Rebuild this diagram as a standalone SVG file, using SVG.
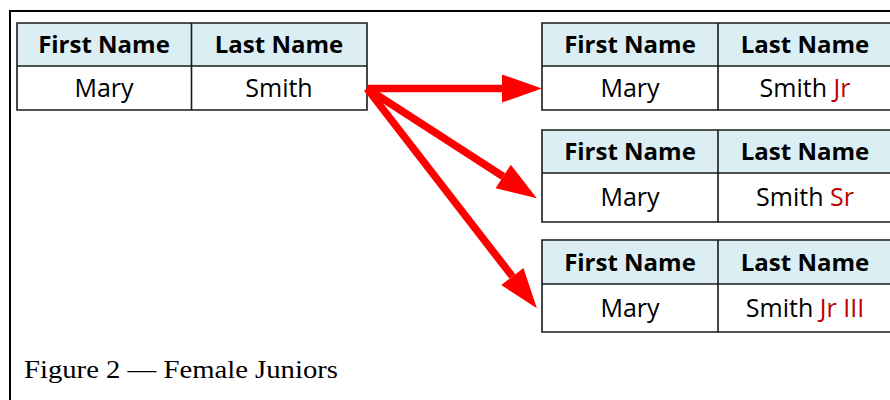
<svg xmlns="http://www.w3.org/2000/svg" width="890" height="400" viewBox="0 0 890 400">
<style>
.hdr{fill:#dbeef3;stroke:none}
.cell{fill:#ffffff;stroke:none}
.grid{fill:none;stroke:#1a1a1a;stroke-width:1.6}
.h{font-family:"Open Sans","Liberation Sans",sans-serif;font-weight:700;font-size:24px;fill:#000;text-anchor:middle}
.d{font-family:"Open Sans","Liberation Sans",sans-serif;font-weight:400;font-size:25px;fill:#000;text-anchor:middle}
.sfx{fill:#c00000}
.arrow{stroke:#ff0000;stroke-width:7.5;fill:none;marker-end:url(#ah)}
.cap{font-family:"Liberation Serif","DejaVu Serif",serif;font-size:26px;fill:#000}
</style>
<defs>
<marker id="ah" markerUnits="userSpaceOnUse" markerWidth="42" markerHeight="30" refX="0" refY="14" orient="auto" overflow="visible">
<path d="M0,0 L40,14 L0,28 Z" fill="#ff0000"/>
</marker>
</defs>
<rect x="0" y="0" width="890" height="400" fill="#ffffff"/>
<path d="M10,400 L10,11 L890,11" fill="none" stroke="#000" stroke-width="2"/>

<g id="src">
<rect class="hdr" x="17" y="23" width="350" height="43"/>
<rect class="cell" x="17" y="66" width="350" height="44"/>
<path class="grid" d="M17,23 H367 V110 H17 Z M17,66 H367 M191.5,23 V110"/>
<text class="h" x="104" y="53">First Name</text>
<text class="h" x="279" y="53">Last Name</text>
<text class="d" x="104" y="96.5">Mary</text>
<text class="d" x="279" y="96.5">Smith</text>
</g>

<g id="jr">
<rect class="hdr" x="542" y="23" width="350" height="43"/>
<rect class="cell" x="542" y="66" width="350" height="44"/>
<path class="grid" d="M542,23 H892 V110 H542 Z M542,66 H892 M718,23 V110"/>
<text class="h" x="630" y="53">First Name</text>
<text class="h" x="805" y="53">Last Name</text>
<text class="d" x="630" y="96.5">Mary</text>
<text class="d" x="805" y="96.5">Smith <tspan class="sfx">Jr</tspan></text>
</g>

<g id="sr">
<rect class="hdr" x="542" y="130" width="350" height="43"/>
<rect class="cell" x="542" y="173" width="350" height="49"/>
<path class="grid" d="M542,130 H892 V222 H542 Z M542,173 H892 M718,130 V222"/>
<text class="h" x="630" y="160">First Name</text>
<text class="h" x="805" y="160">Last Name</text>
<text class="d" x="630" y="206">Mary</text>
<text class="d" x="805" y="206">Smith <tspan class="sfx">Sr</tspan></text>
</g>

<g id="jr3">
<rect class="hdr" x="542" y="240" width="350" height="44"/>
<rect class="cell" x="542" y="284" width="350" height="48"/>
<path class="grid" d="M542,240 H892 V332 H542 Z M542,284 H892 M718,240 V332"/>
<text class="h" x="630" y="270.5">First Name</text>
<text class="h" x="805" y="270.5">Last Name</text>
<text class="d" x="630" y="316.5">Mary</text>
<text class="d" x="805" y="316.5">Smith <tspan class="sfx">Jr III</tspan></text>
</g>

<g id="connectors">
<line class="arrow" x1="367" y1="88.5" x2="502" y2="88.5"/>
<line class="arrow" x1="367" y1="88.5" x2="503.2" y2="176.5"/>
<line class="arrow" x1="367" y1="88.5" x2="512.4" y2="276.5"/>
</g>

<text class="cap" x="24" y="378" textLength="314" lengthAdjust="spacingAndGlyphs">Figure 2 — Female Juniors</text>
</svg>
